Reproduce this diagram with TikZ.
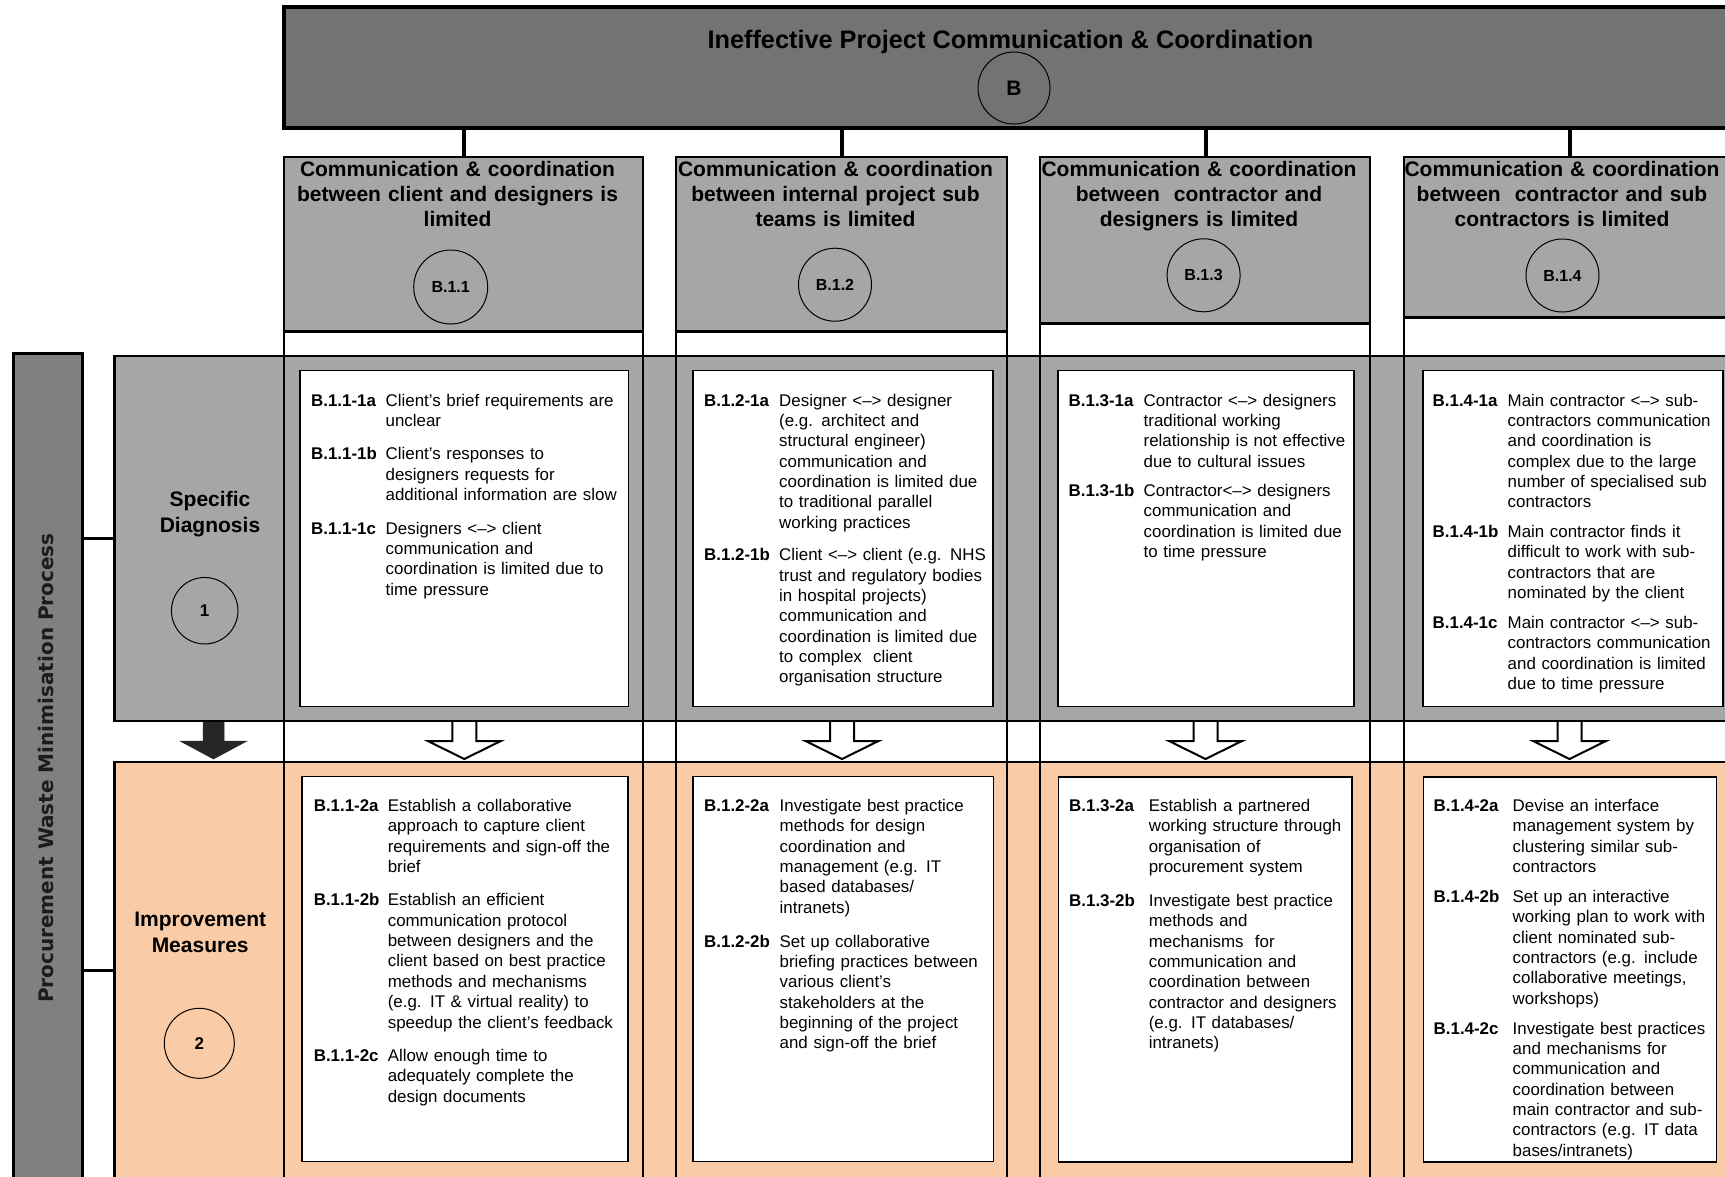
\documentclass[tikz,border=0pt]{standalone}
\usepackage{fontspec}
\setmainfont{Liberation Sans}
\newfontfamily\barfont{DejaVu Sans}
\usetikzlibrary{calc}

\definecolor{topgray}{RGB}{115,115,115}
\definecolor{midgray}{RGB}{166,166,166}
\definecolor{bargray}{RGB}{128,128,128}
\definecolor{bartext}{RGB}{28,28,28}
\definecolor{peach}{RGB}{249,203,166}
\definecolor{arrowdark}{RGB}{38,38,38}

\newcommand\bodyfont{\fontsize{16.9}{20.35}\selectfont}
\newcommand\headfont{\fontsize{21}{25.3}\selectfont\bfseries}
\newcommand\bandfont{\fontsize{21}{25.5}\selectfont\bfseries}

% one numbered entry: bold code, then the text with a hanging indent
\newlength\lblw
\newcommand\itemgap{12pt}
\newcommand\itm[2]{\noindent\makebox[\lblw][l]{\bfseries #1}%
  \begin{tabular}[t]{@{}l@{}}#2\end{tabular}\par\vspace{\itemgap}}

\begin{document}
\begin{tikzpicture}[x=1pt,y=-1pt,
  box/.style={draw, inner sep=0pt, outer sep=0pt, anchor=north west},
  band/.style={box, line width=2.5pt},
  subbox/.style={box, fill=midgray, line width=2pt},
  textbox/.style={box, fill=white, line width=1.5pt},
  colline/.style={line width=2pt},
  conn/.style={line width=4pt},
  barconn/.style={line width=3pt},
  tag/.style={circle, draw, line width=1pt, inner sep=0pt, font=\bfseries\fontsize{16}{19}\selectfont},
  heading/.style={anchor=base, inner sep=0pt, text width=345pt, align=center, font=\headfont},
  entries/.style={anchor=base west, inner sep=0pt, text width=330pt, align=left, font=\bodyfont},
  hollowarrow/.style={draw, line width=2pt, line join=miter},
  solidarrow/.style={fill=arrowdark, draw=arrowdark, line width=0.5pt}]

\useasboundingbox (0,0) rectangle (1725,1176);
\clip (0,0) rectangle (1725,1176);
\coordinate (bottom) at (0,1195);

% stage bands
\node[band, fill=midgray, minimum width=1700pt, minimum height=365pt] (diag) at (114.3,356) {};
\node[band, fill=peach, minimum width=1700pt, minimum height=500pt] (impr) at (114.3,762) {};

% process bar on the left
\node[box, fill=bargray, line width=3.5pt, minimum width=69pt, minimum height=900pt] (bar) at (13.3,353.5) {};
\node[rotate=90, anchor=base, inner sep=0pt, text=bartext,
  font=\barfont\bfseries\fontsize{20}{24}\selectfont] (bartitle) at (53.3,768)
  {Procurement Waste Minimisation Process};

% main problem box
\node[box, fill=topgray, line width=4pt, minimum width=1500pt, minimum height=121.5pt] (top) at (284,6.5) {};
\node[anchor=base, inner sep=0pt, font=\bfseries\fontsize{25.3}{30}\selectfont] (title) at (1010.5,48)
  {Ineffective Project Communication \& Coordination};
\node[tag, minimum size=72pt, font=\bfseries\fontsize{21}{25}\selectfont] (tagB) at (1014,88) {B};

% sub-problem boxes
\node[subbox, minimum width=359.5pt, minimum height=174.5pt] (s1) at (283.5,156.5) {};
\node[subbox, minimum width=330.5pt, minimum height=174.5pt] (s2) at (676,156.5) {};
\node[subbox, minimum width=330pt, minimum height=167pt] (s3) at (1040,156.5) {};
\node[subbox, minimum width=400pt, minimum height=160.5pt] (s4) at (1404,156.5) {};

% column lines running down through both stages
\foreach \s in {s1,s2,s3,s4}{
  \draw[colline] (\s.north west) -- (\s.north west |- bottom);
  \draw[colline] (\s.north east) -- (\s.north east |- bottom);
  \draw[line width=3pt] (\s.south west) -- (\s.south east);
}

% connectors from the main box
\coordinate (c1) at (464.3,0);
\coordinate (c2) at (842,0);
\coordinate (c3) at (1205.5,0);
\coordinate (c4) at (1569.5,0);
\draw[conn] (top.south -| c1) -- (s1.north -| c1);
\draw[conn] (top.south -| c2) -- (s2.north -| c2);
\draw[conn] (top.south -| c3) -- (s3.north -| c3);
\draw[conn] (top.south -| c4) -- (s4.north -| c4);

% connectors from the process bar
\coordinate (y1) at (0,538.3);
\coordinate (y2) at (0,970.5);
\draw[barconn] (bar.east |- y1) -- (diag.west |- y1);
\draw[barconn] (bar.east |- y2) -- (impr.west |- y2);

% sub-problem titles and tags
\node[heading] (h1) at (457.5,176) {Communication \& coordination\\between client and designers is\\limited};
\node[heading] (h2) at (835.5,176) {Communication \& coordination\\between internal project sub\\teams is limited};
\node[heading] (h3) at (1199,176) {Communication \& coordination\\between~ contractor and\\designers is limited};
\node[heading] (h4) at (1562,176) {Communication \& coordination\\between~ contractor and sub\\contractors is limited};
\node[tag, minimum size=74pt] (t1) at (450.7,287) {B.1.1};
\node[tag, minimum size=73pt] (t2) at (835,284.7) {B.1.2};
\node[tag, minimum size=73pt] (t3) at (1203.6,275.3) {B.1.3};
\node[tag, minimum size=73pt] (t4) at (1562.5,275.5) {B.1.4};

% stage labels
\node[anchor=base, inner sep=0pt, text width=150pt, align=center, font=\bandfont] (lab1) at (210,506.7) {Specific\\Diagnosis};
\node[tag, minimum size=66.5pt, font=\bfseries\fontsize{17}{20}\selectfont] (n1) at (204.7,610.7) {1};
\node[anchor=base, inner sep=0pt, text width=150pt, align=center, font=\bandfont] (lab2) at (200.2,926.7) {Improvement\\Measures};
\node[tag, minimum size=70pt, font=\bfseries\fontsize{17}{20}\selectfont] (n2) at (199.3,1043.3) {2};

% arrows between the two stages
\coordinate (a0) at (213.5,722);
\coordinate (a1) at (464.3,722);
\coordinate (a2) at (842,722);
\coordinate (a3) at (1205.5,722);
\coordinate (a4) at (1569.5,722);
\fill[solidarrow] ($(a0)+(-10.5,0)$) -- ++(0,19) -- ++(-23,0) -- ++(33.5,18) -- ++(33.5,-18) -- ++(-23,0) -- ++(0,-19) -- cycle;
\foreach \a in {a1,a2,a3,a4}{
  \fill[white] ($(\a)+(-12,0)$) -- ++(0,19) -- ++(-24.5,0) -- ++(36.5,18) -- ++(36.5,-18) -- ++(-24.5,0) -- ++(0,-19) -- cycle;
  \draw[hollowarrow] ($(\a)+(-12,-1)$) -- ++(0,20) -- ++(-24.5,0) -- ++(36.5,18) -- ++(36.5,-18) -- ++(-24.5,0) -- ++(0,-20);
}

% diagnosis text boxes
\node[textbox, minimum width=328.6pt, minimum height=336pt] (w11) at (300,370.7) {};
\node[textbox, minimum width=299.6pt, minimum height=336pt] (w12) at (693.2,370.7) {};
\node[textbox, minimum width=296pt, minimum height=336pt] (w13) at (1058,370.7) {};
\node[textbox, minimum width=300pt, minimum height=336pt] (w14) at (1423,370.7) {};
% improvement text boxes
\node[textbox, minimum width=326pt, minimum height=385pt] (w21) at (302.2,776.5) {};
\node[textbox, minimum width=300.3pt, minimum height=385pt] (w22) at (693.2,776.7) {};
\node[textbox, minimum width=293.4pt, minimum height=385pt] (w23) at (1058.6,777) {};
\node[textbox, minimum width=293.4pt, minimum height=385pt] (w24) at (1423.3,777) {};

% diagnosis entries
\node[entries] (e11) at (311,406) {\setlength\lblw{74.5pt}\renewcommand\itemgap{12.2pt}%
\itm{B.1.1-1a}{Client’s brief requirements are\\unclear}
\itm{B.1.1-1b}{Client’s responses to\\designers requests for\\additional information are slow}
\itm{B.1.1-1c}{Designers <–> client\\communication and\\coordination is limited due to\\time pressure}};

\node[entries] (e12) at (704,406) {\setlength\lblw{75pt}\renewcommand\itemgap{11.2pt}%
\itm{B.1.2-1a}{Designer <–> designer\\(e.g. architect and\\structural engineer)\\communication and\\coordination is limited due\\to traditional parallel\\working practices}
\itm{B.1.2-1b}{Client <–> client (e.g. NHS\\trust and regulatory bodies\\in hospital projects)\\communication and\\coordination is limited due\\to complex~ client\\organisation structure}};

\node[entries] (e13) at (1068.5,406) {\setlength\lblw{75pt}\renewcommand\itemgap{8pt}%
\itm{B.1.3-1a}{Contractor <–> designers\\traditional working\\relationship is not effective\\due to cultural issues}
\itm{B.1.3-1b}{Contractor<–> designers\\communication and\\coordination is limited due\\to time pressure}};

\node[entries] (e14) at (1432.5,406) {\setlength\lblw{75pt}\renewcommand\itemgap{8.5pt}%
\itm{B.1.4-1a}{Main contractor <–> sub-\\contractors communication\\and coordination is\\complex due to the large\\number of specialised sub\\contractors}
\itm{B.1.4-1b}{Main contractor finds it\\difficult to work with sub-\\contractors that are\\nominated by the client}
\itm{B.1.4-1c}{Main contractor <–> sub-\\contractors communication\\and coordination is limited\\due to time pressure}};

% improvement entries
\node[entries] (e21) at (313.6,811.5) {\setlength\lblw{74pt}\renewcommand\itemgap{12pt}%
\itm{B.1.1-2a}{Establish a collaborative\\approach to capture client\\requirements and sign-off the\\brief}
\itm{B.1.1-2b}{Establish an efficient\\communication protocol\\between designers and the\\client based on best practice\\methods and mechanisms\\(e.g. IT \& virtual reality) to\\speedup the client’s feedback}
\itm{B.1.1-2c}{Allow enough time to\\adequately complete the\\design documents}};

\node[entries] (e22) at (704,811.5) {\setlength\lblw{75.5pt}\renewcommand\itemgap{12.4pt}%
\itm{B.1.2-2a}{Investigate best practice\\methods for design\\coordination and\\management (e.g. IT\\based databases/\\intranets)}
\itm{B.1.2-2b}{Set up collaborative\\briefing practices between\\various client’s\\stakeholders at the\\beginning of the project\\and sign-off the brief}};

\node[entries] (e23) at (1069,811.5) {\setlength\lblw{79.6pt}\renewcommand\itemgap{12.4pt}%
\itm{B.1.3-2a}{Establish a partnered\\working structure through\\organisation of\\procurement system}
\itm{B.1.3-2b}{Investigate best practice\\methods and\\mechanisms~ for\\communication and\\coordination between\\contractor and designers\\(e.g. IT databases/\\intranets)}};

\node[entries] (e24) at (1433.5,811.5) {\setlength\lblw{79pt}\renewcommand\itemgap{8.6pt}%
\itm{B.1.4-2a}{Devise an interface\\management system by\\clustering similar sub-\\contractors}
\itm{B.1.4-2b}{Set up an interactive\\working plan to work with\\client nominated sub-\\contractors (e.g. include\\collaborative meetings,\\workshops)}
\itm{B.1.4-2c}{Investigate best practices\\and mechanisms for\\communication and\\coordination between\\main contractor and sub-\\contractors (e.g. IT data\\bases/intranets)}};

\end{tikzpicture}
\end{document}
